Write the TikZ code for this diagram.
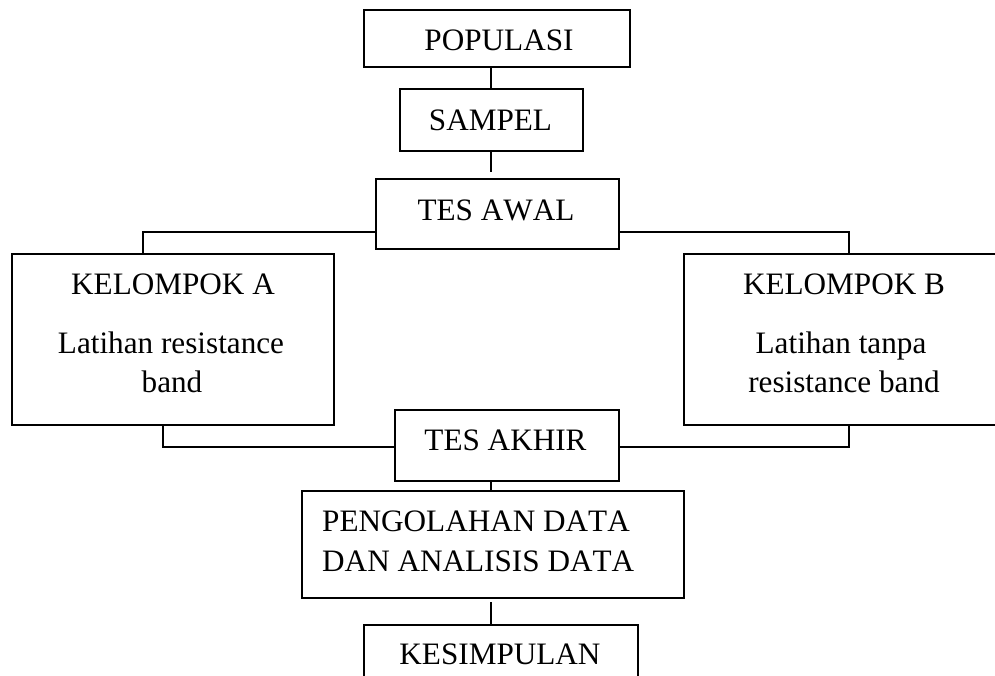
\documentclass[tikz,border=0pt]{standalone}
\usepackage{fontspec}
\setmainfont[Kerning=Off]{Liberation Serif}
\usetikzlibrary{calc}
\begin{document}
\begin{tikzpicture}[x=1pt,y=-1pt,
  box/.style={draw,line width=1.6pt,rectangle,inner sep=0pt,anchor=north west},
  txt/.style={anchor=base,inner sep=0pt,font=\fontsize{31.2}{40}\selectfont},
  conn/.style={line width=1.6pt}]
\useasboundingbox (0,0) rectangle (995,675);
\clip (0,0) rectangle (995,675);
% boxes
\node[box,minimum width=266pt,minimum height=57pt] (pop) at (363,9) {};
\node[box,minimum width=183pt,minimum height=62pt] (samp) at (399,88) {};
\node[box,minimum width=243pt,minimum height=70pt] (aw) at (375,178) {};
\node[box,minimum width=322pt,minimum height=171pt] (kA) at (11,253) {};
\node[box,minimum width=322pt,minimum height=171pt] (kB) at (683,253) {};
\node[box,minimum width=224pt,minimum height=71pt] (ak) at (394,409) {};
\node[box,minimum width=382pt,minimum height=107pt] (pg) at (301,490) {};
\node[box,minimum width=274pt,minimum height=70pt] (ks) at (363,624) {};
% texts
\node[txt] (popT) at (499,50) {POPULASI};
\node[txt] (sampT) at (490.5,130) {SAMPEL};
\node[txt] (awT) at (496,220) {TES AWAL};
\node[txt] (kAT1) at (173,294) {KELOMPOK A};
\node[txt] (kAT2) at (171,353) {Latihan resistance};
\node[txt] (kAT3) at (172,392) {band};
\node[txt] (kBT1) at (844,294) {KELOMPOK B};
\node[txt] (kBT2) at (841,353) {Latihan tanpa};
\node[txt] (kBT3) at (844,392) {resistance band};
\node[txt] (akT) at (505.5,450) {TES AKHIR};
\node[txt,anchor=base west] (pgT1) at (322,531) {PENGOLAHAN DATA};
\node[txt,anchor=base west] (pgT2) at (322,571) {DAN ANALISIS DATA};
\node[txt] (ksT) at (500,664) {KESIMPULAN};
% connector coordinates
\coordinate (c1) at (491,66);
\coordinate (c2) at (491,172);
\coordinate (aL) at (143,232);
\coordinate (aR) at (849,232);
\coordinate (bL) at (163,447);
\coordinate (bR) at (849,447);
\coordinate (c3) at (491,480);
\coordinate (c4) at (491,602);
% connectors
\draw[conn] (pop.south -| c1) -- (samp.north -| c1);
\draw[conn] (samp.south -| c1) -- (c2);
\draw[conn] (aw.west |- aL) -- (aL) -- (aL |- kA.north);
\draw[conn] (aw.east |- aR) -- (aR) -- (aR |- kB.north);
\draw[conn] (kA.south -| bL) -- (bL) -- (ak.west |- bL);
\draw[conn] (kB.south -| bR) -- (bR) -- (ak.east |- bR);
\draw[conn] (ak.south -| c3) -- (pg.north -| c3);
\draw[conn] (c4) -- (ks.north -| c4);
\end{tikzpicture}
\end{document}
